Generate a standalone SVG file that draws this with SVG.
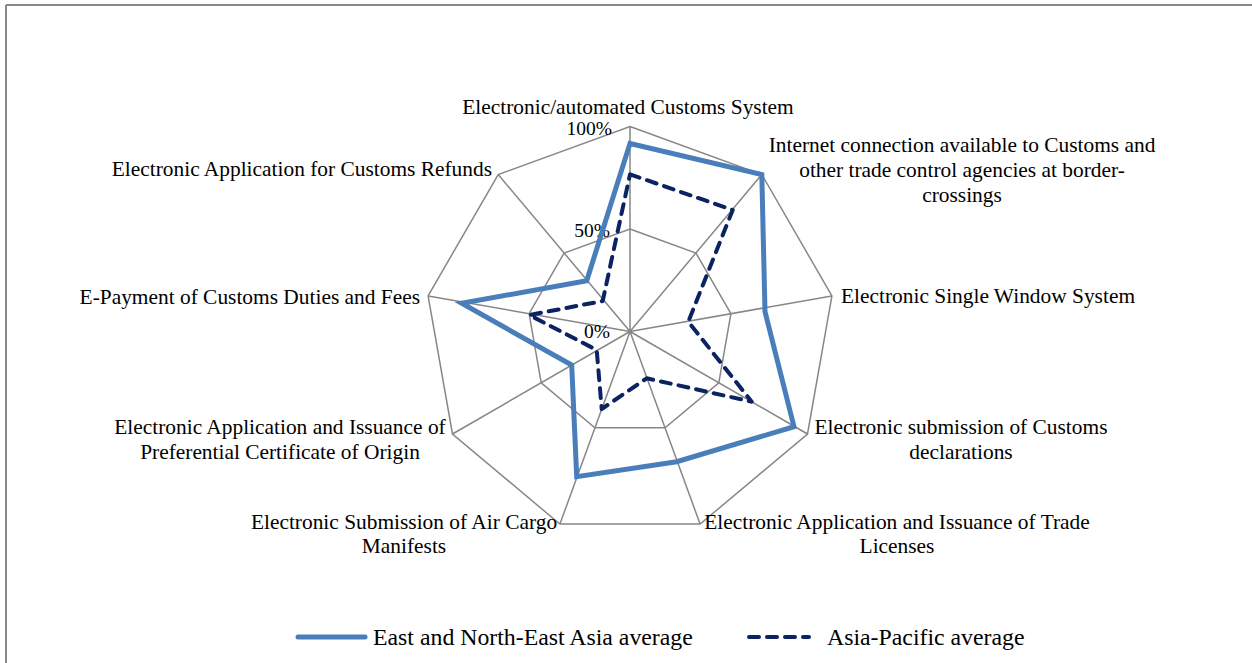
<svg xmlns="http://www.w3.org/2000/svg" width="1252" height="663" viewBox="0 0 1252 663">
<style>
.grid{fill:none;stroke:#878787;stroke-width:1.5}
.lbl{font-family:"Liberation Serif","Times New Roman",serif;font-size:21.4px;fill:#000}
.leg{font-family:"Liberation Serif","Times New Roman",serif;font-size:23.8px;fill:#000}
.tick{font-family:"Liberation Serif","Times New Roman",serif;font-size:19.5px;fill:#000;text-anchor:end}
.s1{fill:none;stroke:#4A7EBB;stroke-width:5;stroke-linejoin:miter}
.s2{fill:none;stroke:#0B2461;stroke-width:4;stroke-dasharray:10 8;stroke-linecap:round;stroke-linejoin:round}
</style>
<rect x="0" y="0" width="1252" height="663" fill="#fff"/>
<g id="frame">
<line x1="6" y1="5" x2="1252" y2="5" stroke="#888" stroke-width="2"/>
<line x1="6" y1="5" x2="6" y2="663" stroke="#888" stroke-width="2"/>
</g>
<g id="grid">
<polygon class="grid" points="630,126.5 761.8,174.5 831.9,295.9 807.5,434 700.1,524.1 559.9,524.1 452.5,434 428.1,295.9 498.2,174.5"/>
<polygon class="grid" points="630,229 695.9,253 730.9,313.7 718.8,382.8 665.1,427.8 594.9,427.8 541.2,382.8 529.1,313.7 564.1,253"/>
<path class="grid" d="M630,331.5L630,126.5M630,331.5L761.8,174.5M630,331.5L831.9,295.9M630,331.5L807.5,434M630,331.5L700.1,524.1M630,331.5L559.9,524.1M630,331.5L452.5,434M630,331.5L428.1,295.9M630,331.5L498.2,174.5"/>
</g>
<g id="ticks">
<text class="tick" x="612" y="135">100%</text>
<text class="tick" x="610" y="237">50%</text>
<text class="tick" x="610" y="338">0%</text>
</g>
<g id="series">
<polygon id="east-asia" class="s1" points="630,143.5 761.8,174.5 765,311.7 794,426.7 676.7,461.7 576.7,476.7 571.7,365 461.7,303.3 586.7,280.7"/>
<polygon id="asia-pacific" class="s2" points="630,174.3 732.7,210 688.3,321.7 751.7,401.7 646.7,378.3 601.7,409 596.7,350 529.3,315 602.7,301"/>
</g>
<g id="labels" class="lbl">
<text id="l0" x="628" y="114" text-anchor="middle">Electronic/automated Customs System</text>
<text id="l1" text-anchor="middle"><tspan x="962" y="152">Internet connection available to Customs and</tspan><tspan x="962" y="177">other trade control agencies at border-</tspan><tspan x="962" y="202">crossings</tspan></text>
<text id="l2" x="841" y="303">Electronic Single Window System</text>
<text id="l3" text-anchor="middle"><tspan x="961" y="434">Electronic submission of Customs</tspan><tspan x="961" y="459">declarations</tspan></text>
<text id="l4" text-anchor="middle"><tspan x="897" y="529">Electronic Application and Issuance of Trade</tspan><tspan x="897" y="553">Licenses</tspan></text>
<text id="l5" text-anchor="middle"><tspan x="404" y="529">Electronic Submission of Air Cargo</tspan><tspan x="404" y="553">Manifests</tspan></text>
<text id="l6" text-anchor="middle"><tspan x="280" y="434">Electronic Application and Issuance of</tspan><tspan x="280" y="459">Preferential Certificate of Origin</tspan></text>
<text id="l7" x="420" y="304" text-anchor="end">E-Payment of Customs Duties and Fees</text>
<text id="l8" x="492" y="176" text-anchor="end">Electronic Application for Customs Refunds</text>
</g>
<g id="legend">
<line x1="298" y1="637" x2="365" y2="637" stroke="#4A7EBB" stroke-width="5" stroke-linecap="round"/>
<text class="leg" x="373" y="645">East and North-East Asia average</text>
<line x1="749" y1="637" x2="809" y2="637" class="s2"/>
<text class="leg" x="827" y="645">Asia-Pacific average</text>
</g>
</svg>
